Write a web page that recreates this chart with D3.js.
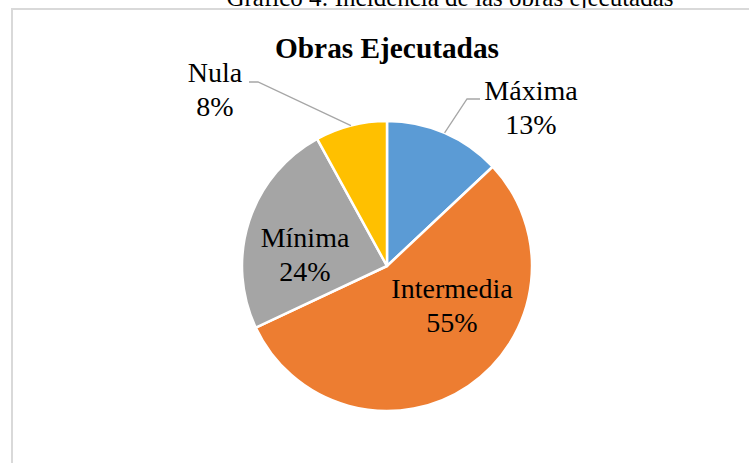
<!DOCTYPE html>
<html>
<head>
<meta charset="utf-8">
<script src="https://cdn.jsdelivr.net/npm/d3@7"></script>
<style>
  body { margin: 0; background: #fff; }
  svg text { font-family: "Liberation Serif", "Times New Roman", serif; fill: #000; }
</style>
</head>
<body>
<svg id="chart" width="749" height="463"></svg>
<script>
// Chart data
const categories = ["Máxima", "Intermedia", "Mínima", "Nula"];
const values = [13, 55, 24, 8];
const colors = ["#5B9BD5", "#ED7D31", "#A5A5A5", "#FFC000"];

const width = 749, height = 463;
const cx = 387, cy = 266, radius = 145;

const svg = d3.select("#chart");

// caption above the chart frame (cut off at the top in the original)
svg.append("text")
    .attr("x", 450)
    .attr("y", 6)
    .attr("text-anchor", "middle")
    .attr("font-size", 25)
    .text("Gráfico 4: Incidencia de las obras ejecutadas");

// chart frame
svg.append("rect")
    .attr("x", 12)
    .attr("y", 9)
    .attr("width", 760)
    .attr("height", 470)
    .attr("fill", "#fff")
    .attr("stroke", "#d9d9d9")
    .attr("stroke-width", 2);

// title
svg.append("text")
    .attr("x", cx)
    .attr("y", 58)
    .attr("text-anchor", "middle")
    .attr("font-size", 30)
    .attr("font-weight", "bold")
    .attr("textLength", 224)
    .attr("lengthAdjust", "spacingAndGlyphs")
    .text("Obras Ejecutadas");

const data = categories.map((c, i) => ({ name: c, value: values[i], color: colors[i] }));

const pie = d3.pie().value(d => d.value).sort(null);
const arc = d3.arc().innerRadius(0).outerRadius(radius);
const arcs = pie(data);

const g = svg.append("g").attr("transform", `translate(${cx},${cy})`);

g.selectAll("path")
    .data(arcs)
    .enter()
    .append("path")
    .attr("d", arc)
    .attr("fill", d => d.data.color)
    .attr("stroke", "#fff")
    .attr("stroke-width", 2.5)
    .attr("stroke-linejoin", "round");

// label positions (relative to pie centre), outside ones get a leader line
const labelPos = {
    "Máxima": { x: 144, y: -166, outside: true, bend: [80, -167], anchorX: 93 },
    "Intermedia": { x: 65, y: 32 },
    "Mínima": { x: -82, y: -19 },
    "Nula": { x: -172, y: -184, outside: true, bend: [-129, -184], anchorX: -138 }
};

arcs.forEach(d => {
    const p = labelPos[d.data.name];
    const pct = Math.round(d.value / d3.sum(values) * 100) + "%";
    if (p.outside) {
        const mid = (d.startAngle + d.endAngle) / 2;
        const ex = Math.sin(mid) * radius, ey = -Math.cos(mid) * radius;
        g.append("polyline")
            .attr("points", `${ex},${ey} ${p.bend[0]},${p.bend[1]} ${p.anchorX},${p.bend[1]}`)
            .attr("fill", "none")
            .attr("stroke", "#a6a6a6")
            .attr("stroke-width", 1.3);
    }
    const t = g.append("text")
        .attr("text-anchor", "middle")
        .attr("font-size", 28);
    t.append("tspan").attr("x", p.x).attr("y", p.y).text(d.data.name);
    t.append("tspan").attr("x", p.x).attr("y", p.y + 34).text(pct);
});
</script>
</body>
</html>
